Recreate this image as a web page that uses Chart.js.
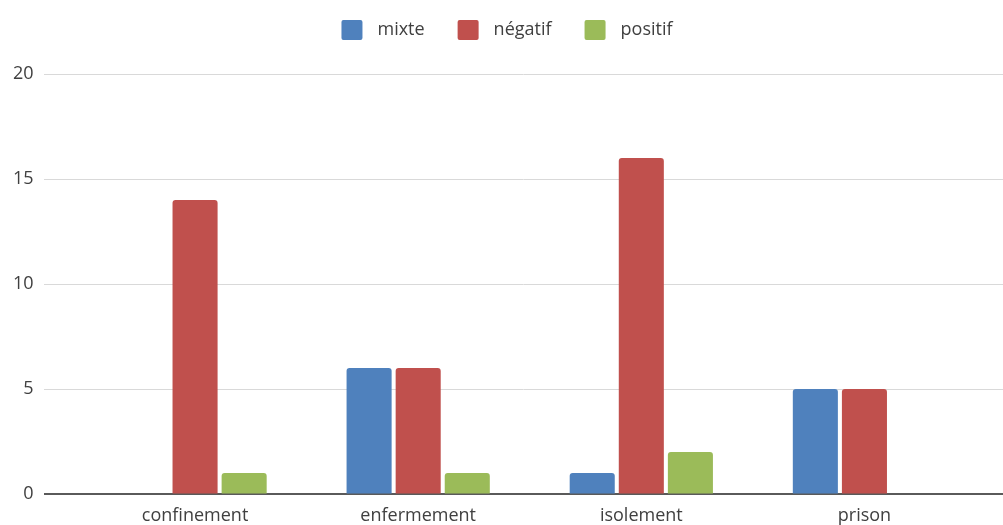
<!DOCTYPE html>
<html>
<head>
<meta charset="utf-8">
<script src="https://cdn.jsdelivr.net/npm/chart.js@4/dist/chart.umd.min.js"></script>
<style>
  html, body { margin: 0; padding: 0; background: #ffffff; overflow: hidden; }
  #wrap { width: 1003px; height: 525px; position: relative; }
</style>
</head>
<body>
<div id="wrap"><canvas id="c"></canvas></div>
<script>
// Categories and counts per sentiment
const categories = ['confinement', 'enfermement', 'isolement', 'prison'];
const mixte   = [0, 6, 1, 5];
const negatif = [14, 6, 16, 5];
const positif = [1, 1, 2, 0];
const seriesNames = ['mixte', 'négatif', 'positif'];
const yTicks = [0, 5, 10, 15, 20];

const colors = ['#4F81BD', '#C0504D', '#9BBB59'];
const textColor = '#404040';
const fontFamily = '"Open Sans", "Noto Sans", sans-serif';

// Horizontal grid lines spanning the full width, with a darker baseline
const gridPlugin = {
  id: 'fullGrid',
  beforeDatasetsDraw(chart) {
    const ctx = chart.ctx;
    const y = chart.scales.y;
    ctx.save();
    yTicks.forEach(v => {
      const py = Math.round(y.getPixelForValue(v));
      ctx.beginPath();
      if (v === 0) {
        ctx.strokeStyle = '#5a5a5a';
        ctx.lineWidth = 2;
        ctx.moveTo(44, py);
        ctx.lineTo(1003, py);
      } else {
        ctx.strokeStyle = '#d9d9d9';
        ctx.lineWidth = 1;
        ctx.moveTo(44, py + 0.5);
        ctx.lineTo(1003, py + 0.5);
      }
      ctx.stroke();
    });
    ctx.restore();
  }
};

// Legend row at the top, centred
const legendPlugin = {
  id: 'topLegend',
  afterDraw(chart) {
    const ctx = chart.ctx;
    ctx.save();
    ctx.font = '18px ' + fontFamily;
    ctx.textBaseline = 'middle';
    const box = 21, gapText = 15, gapItem = 33;
    const items = chart.data.datasets.map(ds => ({
      label: ds.label, color: ds.backgroundColor,
      w: ctx.measureText(ds.label).width
    }));
    let total = 0;
    items.forEach((it, i) => { total += box + gapText + it.w + (i < items.length - 1 ? gapItem : 0); });
    let x = 507 - total / 2;
    const cy = 30;
    items.forEach(it => {
      ctx.fillStyle = it.color;
      ctx.beginPath();
      ctx.roundRect(x, cy - 10, box, 20, 2);
      ctx.fill();
      ctx.fillStyle = textColor;
      ctx.textAlign = 'left';
      ctx.fillText(it.label, x + box + gapText, cy);
      x += box + gapText + it.w + gapItem;
    });
    ctx.restore();
  }
};

const seriesData = [mixte, negatif, positif];

new Chart(document.getElementById('c'), {
  type: 'bar',
  data: {
    labels: categories,
    datasets: seriesNames.map((name, i) => ({
      label: name,
      data: seriesData[i],
      backgroundColor: colors[i],
      borderWidth: 0,
      borderRadius: 3,
      borderSkipped: 'start',
      categoryPercentage: 0.66,
      barPercentage: 0.918
    }))
  },
  options: {
    responsive: true,
    maintainAspectRatio: false,
    animation: false,
    devicePixelRatio: 1,
    layout: { padding: { top: 74, right: 27, bottom: 0, left: 0 } },
    plugins: {
      legend: { display: false },
      tooltip: { enabled: false }
    },
    scales: {
      x: {
        grid: { display: false, drawTicks: false },
        border: { display: false },
        ticks: {
          color: textColor,
          font: { family: fontFamily, size: 18 },
          padding: 11,
          maxRotation: 0
        },
        afterFit(scale) { scale.height = 31; }
      },
      y: {
        min: 0,
        max: 20,
        grid: {
          display: true,
          drawOnChartArea: false,
          drawTicks: true,
          tickLength: 42,
          color: 'rgba(0,0,0,0)'
        },
        border: { display: false },
        afterBuildTicks(scale) { scale.ticks = yTicks.map(v => ({ value: v })); },
        ticks: {
          color: textColor,
          font: { family: fontFamily, size: 18 },
          padding: 8
        },
        afterFit(scale) { scale.width = 83.5; }
      }
    }
  },
  plugins: [gridPlugin, legendPlugin]
});
</script>
</body>
</html>
